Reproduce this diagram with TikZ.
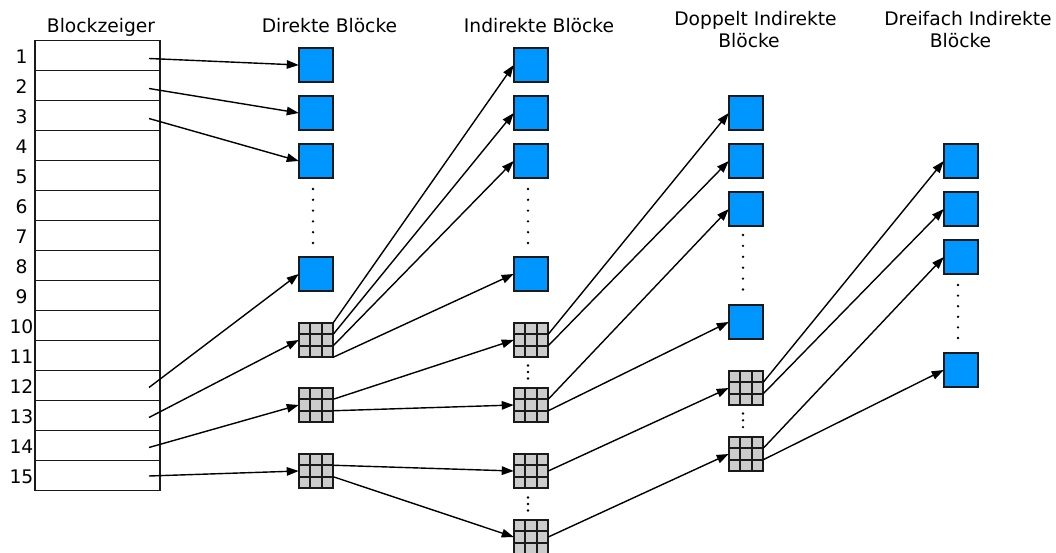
\documentclass[tikz,border=0pt]{standalone}
\usepackage{fontspec}
\setmainfont{DejaVu Sans}
\usetikzlibrary{arrows.meta,calc}
\definecolor{blockblue}{RGB}{0,150,255}
\definecolor{cellgray}{RGB}{204,204,204}
\definecolor{edgeink}{RGB}{26,26,26}
\begin{document}
\begin{tikzpicture}[x=1pt,y=-1pt,
  lbl/.style={font=\fontsize{18.7}{22}\selectfont, inner sep=0, anchor=base},
  num/.style={font=\fontsize{18.7}{22}\selectfont, inner sep=0},
  rowbox/.style={draw=edgeink, line width=1.6pt, minimum width=125pt,
    minimum height=30pt, inner sep=0, outer sep=0},
  dblk/.style={draw=edgeink, line width=1.8pt, fill=blockblue,
    minimum size=34.5pt, inner sep=0, outer sep=0},
  iblk/.style={draw=edgeink, line width=1.8pt, fill=cellgray,
    minimum size=34.5pt, inner sep=0, outer sep=0,
    path picture={
      \foreach \f in {1,2}{
        \draw[edgeink, line width=1.7pt]
          ($(path picture bounding box.north west)!\f/3!(path picture bounding box.north east)$) --
          ($(path picture bounding box.south west)!\f/3!(path picture bounding box.south east)$);
        \draw[edgeink, line width=1.7pt]
          ($(path picture bounding box.north west)!\f/3!(path picture bounding box.south west)$) --
          ($(path picture bounding box.north east)!\f/3!(path picture bounding box.south east)$);
      }
    }},
  ptr/.style={line width=1.4pt, -{Triangle[length=12pt,width=8.5pt]}},
  dot/.style={fill=black, circle, inner sep=0, minimum size=2.6pt}
]
\useasboundingbox (0,0) rectangle (1056,553);

% column headings
\node[lbl] (hTab) at (101,33) {Blockzeiger};
\node[lbl] (hDir) at (329.5,33) {Direkte Blöcke};
\node[lbl] (hInd) at (539,33) {Indirekte Blöcke};
\node[lbl] (hDbl) at (755.5,26) {Doppelt Indirekte};
\node[lbl] (hDblB) at (749,48) {Blöcke};
\node[lbl] (hTri) at (968,26) {Dreifach Indirekte};
\node[lbl] (hTriB) at (960.5,48) {Blöcke};

% pointer table with row numbers
\foreach \k in {1,...,15}{
  \node[rowbox] (r\k) at (97.5,{40.5+30*(\k-0.5)}) {};
  \node[num] (n\k) at (21.5,{41.5+30*(\k-0.5)}) {\k};
}

% direct blocks
\node[dblk] (d1) at (316,65) {};
\node[dblk] (d2) at (316,113) {};
\node[dblk] (d3) at (316,161) {};
\node[dblk] (d4) at (316,274) {};
\node[iblk] (ga) at (316,340) {};
\node[iblk] (gb) at (316,405) {};
\node[iblk] (gc) at (316,471) {};

% blocks reached through one indirection
\node[dblk] (i1) at (531,65) {};
\node[dblk] (i2) at (531,113) {};
\node[dblk] (i3) at (531,161) {};
\node[dblk] (i4) at (531,274) {};
\node[iblk] (ha) at (531,340) {};
\node[iblk] (hb) at (531,405) {};
\node[iblk] (hc) at (531,471) {};
\node[iblk] (hd) at (531,537) {};

% double indirection
\node[dblk] (e1) at (746,113) {};
\node[dblk] (e2) at (746,161) {};
\node[dblk] (e3) at (746,209) {};
\node[dblk] (e4) at (746,322) {};
\node[iblk] (ka) at (746,388) {};
\node[iblk] (kb) at (746,454) {};

% triple indirection
\node[dblk] (t1) at (961,161) {};
\node[dblk] (t2) at (961,209) {};
\node[dblk] (t3) at (961,257) {};
\node[dblk] (t4) at (961,370) {};

% ellipsis dots
\foreach \i in {0,...,5}{
  \node[dot] (pa\i) at (313,{189+10.8*\i}) {};
  \node[dot] (pb\i) at (528,{189+10.8*\i}) {};
  \node[dot] (pc\i) at (743,{235+10.9*\i}) {};
  \node[dot] (pd\i) at (958,{285+10.6*\i}) {};
}
\foreach \i in {0,1,2}{
  \node[dot] (qa\i) at (528,{365.5+6.5*\i}) {};
  \node[dot] (qb\i) at (528,{497.5+6.5*\i}) {};
  \node[dot] (qc\i) at (743,{413.5+6.8*\i}) {};
}

% table -> first column
\draw[ptr] ($(r1.east)+(-11,3)$) -- (d1.west);
\draw[ptr] ($(r2.east)+(-11,3)$) -- (d2.west);
\draw[ptr] ($(r3.east)+(-11,3)$) -- (d3.west);
\draw[ptr] ($(r12.east)+(-11,2)$) -- (d4.west);
\draw[ptr] ($(r13.east)+(-11,2)$) -- (ga.west);
\draw[ptr] ($(r14.east)+(-11,2)$) -- (gb.west);
\draw[ptr] ($(r15.east)+(-11,0.5)$) -- (gc.west);

% first column -> second column
\draw[ptr] (ga.north east) -- (i1.west);
\draw[ptr] ($(ga.north east)!1/3!(ga.south east)$) -- (i2.west);
\draw[ptr] ($(ga.north east)!2/3!(ga.south east)$) -- (i3.west);
\draw[ptr] (ga.south east) -- (i4.west);
\draw[ptr] ($(gb.north east)!1/3!(gb.south east)$) -- (ha.west);
\draw[ptr] ($(gb.north east)!2/3!(gb.south east)$) -- (hb.west);
\draw[ptr] ($(gc.north east)!1/3!(gc.south east)$) -- (hc.west);
\draw[ptr] ($(gc.north east)!2/3!(gc.south east)$) -- (hd.west);

% second column -> third column
\draw[ptr] ($(ha.north east)!1/3!(ha.south east)$) -- (e1.west);
\draw[ptr] ($(ha.north east)!2/3!(ha.south east)$) -- (e2.west);
\draw[ptr] ($(hb.north east)!1/3!(hb.south east)$) -- (e3.west);
\draw[ptr] ($(hb.north east)!2/3!(hb.south east)$) -- (e4.west);
\draw[ptr] (hc.east) -- (ka.west);
\draw[ptr] (hd.east) -- (kb.west);

% third column -> fourth column
\draw[ptr] ($(ka.north east)!1/3!(ka.south east)$) -- (t1.west);
\draw[ptr] ($(ka.north east)!2/3!(ka.south east)$) -- (t2.west);
\draw[ptr] ($(kb.north east)!1/3!(kb.south east)$) -- (t3.west);
\draw[ptr] ($(kb.north east)!2/3!(kb.south east)$) -- (t4.west);
\end{tikzpicture}
\end{document}
